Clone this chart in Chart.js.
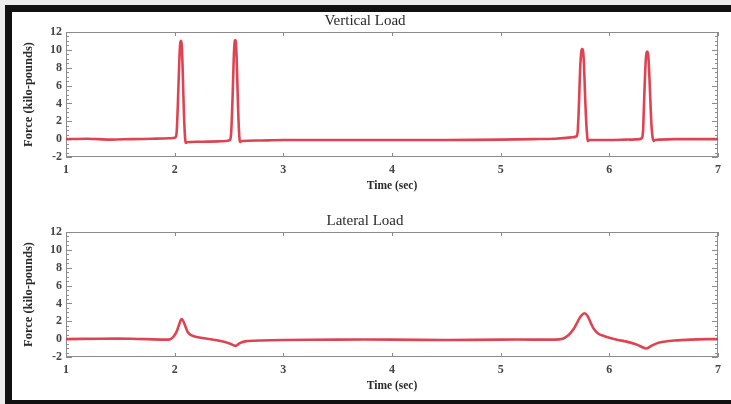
<!DOCTYPE html>
<html><head><meta charset="utf-8">
<script src="https://cdn.jsdelivr.net/npm/chart.js@4.4.1/dist/chart.umd.min.js"></script>
<style>
html,body{margin:0;padding:0;background:#ececec;width:731px;height:404px;overflow:hidden;position:relative}
#frame{position:absolute;left:5px;top:5px;width:740px;height:388px;border-top:7px solid #111;border-left:7px solid #111;border-bottom:7px solid #111;background:#fff}
canvas{position:absolute;left:0}
#c1{top:0}
#c2{top:200px}
</style></head><body>
<div id="frame"></div>
<canvas id="c1" width="731" height="200"></canvas>
<canvas id="c2" width="731" height="200"></canvas>
<script>
// ---- data ----
const verticalTime  = [1.00,1.20,1.40,1.60,1.80,1.95,2.00,2.015,2.025,2.035,2.045,2.052,2.058,2.064,2.072,2.080,2.088,2.095,2.102,2.115,2.20,2.30,2.40,2.50,2.515,2.525,2.535,2.545,2.552,2.558,2.564,2.572,2.580,2.588,2.595,2.602,2.62,2.80,3.00,3.50,4.00,4.50,5.00,5.30,5.50,5.65,5.70,5.712,5.722,5.732,5.742,5.750,5.758,5.766,5.775,5.785,5.795,5.803,5.815,5.90,6.00,6.15,6.28,6.305,6.315,6.325,6.335,6.343,6.350,6.358,6.367,6.377,6.388,6.398,6.408,6.42,6.60,6.80,7.00];
const verticalForce = [0.00,0.05,-0.05,0.00,0.05,0.10,0.15,0.4,2.5,6.0,9.5,10.8,11.0,10.7,8.5,5.0,2.0,0.3,-0.4,-0.35,-0.30,-0.28,-0.25,-0.15,0.1,2.0,5.5,9.5,10.9,11.1,10.8,8.5,5.0,2.0,0.3,-0.3,-0.2,-0.15,-0.1,-0.1,-0.1,-0.1,-0.05,0.0,0.05,0.2,0.35,1.5,4.5,8.0,9.8,10.1,9.9,8.5,5.5,2.5,0.5,-0.2,-0.1,-0.1,-0.1,-0.05,0.0,0.3,2.5,6.0,8.8,9.7,9.8,9.4,7.5,4.5,1.5,0.2,-0.2,-0.1,0.0,0.0,0.0];
const lateralTime  = [1.00,1.30,1.60,1.90,1.96,1.99,2.02,2.04,2.055,2.066,2.08,2.10,2.12,2.15,2.20,2.30,2.40,2.50,2.56,2.60,2.65,2.80,3.00,3.50,4.00,4.50,5.00,5.30,5.50,5.57,5.62,5.67,5.71,5.74,5.77,5.80,5.83,5.86,5.90,5.95,6.00,6.08,6.15,6.25,6.34,6.38,6.43,6.50,6.60,6.75,6.90,7.00];
const lateralForce = [0.00,0.05,0.05,-0.05,0.00,0.3,0.9,1.6,2.1,2.25,2.0,1.4,0.8,0.45,0.25,0.05,-0.15,-0.45,-0.75,-0.45,-0.25,-0.15,-0.1,-0.05,-0.05,-0.1,-0.05,-0.05,-0.05,0.05,0.4,1.1,2.0,2.6,2.9,2.6,1.8,1.1,0.6,0.35,0.15,-0.1,-0.25,-0.6,-1.05,-0.8,-0.5,-0.3,-0.15,-0.05,0.0,0.0];
const xTicks = [1,2,3,4,5,6,7];
const yTicks = [-2,0,2,4,6,8,10,12];
const yMinorStep = 0.5;
const titles = ['Vertical Load','Lateral Load'];
const xLabel = 'Time (sec)';
const yLabel = 'Force (kilo-pounds)';

const SERIF = "'Liberation Serif','DejaVu Serif',serif";

const framePlugin = {
  id:'framePlugin',
  beforeDatasetsDraw(chart){
    const {ctx, chartArea:a, scales:{x,y}} = chart;
    ctx.save();
    ctx.strokeStyle = '#8c8c8c';
    ctx.lineWidth = 1;
    ctx.strokeRect(a.left+0.5, a.top+0.5, a.right-a.left-1, a.bottom-a.top-1);
    ctx.beginPath();
    const y0 = yTicks[0], y1 = yTicks[yTicks.length-1];
    for (let k=0; y0+k*yMinorStep<=y1+1e-9; k++){
      const v = y0 + k*yMinorStep;
      const p = Math.round(y.getPixelForValue(v))+0.5;
      const major = yTicks.includes(v);
      const L = major ? 6 : 3;
      ctx.moveTo(a.left, p); ctx.lineTo(a.left+L, p);
      ctx.moveTo(a.right, p); ctx.lineTo(a.right-L, p);
    }
    xTicks.forEach(v=>{
      const p = Math.round(x.getPixelForValue(v))+0.5;
      ctx.moveTo(p, a.top); ctx.lineTo(p, a.top+4);
      ctx.moveTo(p, a.bottom); ctx.lineTo(p, a.bottom-4);
    });
    ctx.stroke();
    ctx.restore();
  }
};

function makeChart(id, title, times, forces){
  const pts = times.map((t,i)=>({x:t, y:forces[i]}));
  return new Chart(document.getElementById(id), {
    type:'line',
    data:{datasets:[
      {data:pts, borderColor:'rgba(222,60,75,0.95)', borderWidth:2.6, pointRadius:0, tension:0.3, fill:false},
      {data:pts, borderColor:'rgba(85,65,65,0.5)', borderWidth:1, pointRadius:0, tension:0.3, fill:false}
    ]},
    options:{
      responsive:false, animation:false,
      layout:{padding:{left:12, right:13, top:0, bottom:0}},
      plugins:{
        legend:{display:false}, tooltip:{enabled:false},
        title:{display:true, text:title, color:'#2a2a2a', font:{family:SERIF, size:15, weight:'normal', lineHeight:1.2}, padding:{top:12, bottom:2}}
      },
      scales:{
        x:{type:'linear', min:1, max:7,
           afterBuildTicks(s){ s.ticks = xTicks.map(v=>({value:v})); },
           afterFit(s){ s.height = 43; },
           grid:{display:false, drawTicks:false}, border:{display:false},
           ticks:{color:'#444', padding:6, font:{family:SERIF, size:12, weight:'bold'}, maxRotation:0, autoSkip:false},
           title:{display:true, text:xLabel, color:'#2a2a2a', font:{family:SERIF, size:11.5, weight:'bold', lineHeight:1.2}, padding:{top:0,bottom:7}}
        },
        y:{type:'linear', min:yTicks[0], max:yTicks[yTicks.length-1],
           afterBuildTicks(s){ s.ticks = yTicks.map(v=>({value:v})); },
           afterFit(s){ s.width = 54; },
           grid:{display:false, drawTicks:false}, border:{display:false},
           ticks:{color:'#444', padding:4, font:{family:SERIF, size:12, weight:'bold'}, autoSkip:false},
           title:{display:true, text:yLabel, color:'#2a2a2a', font:{family:SERIF, size:12.5, weight:'bold', lineHeight:1.2}, padding:{top:9.5,bottom:0}}
        }
      }
    },
    plugins:[framePlugin]
  });
}
makeChart('c1', titles[0], verticalTime, verticalForce);
makeChart('c2', titles[1], lateralTime, lateralForce);
</script>
</body></html>
